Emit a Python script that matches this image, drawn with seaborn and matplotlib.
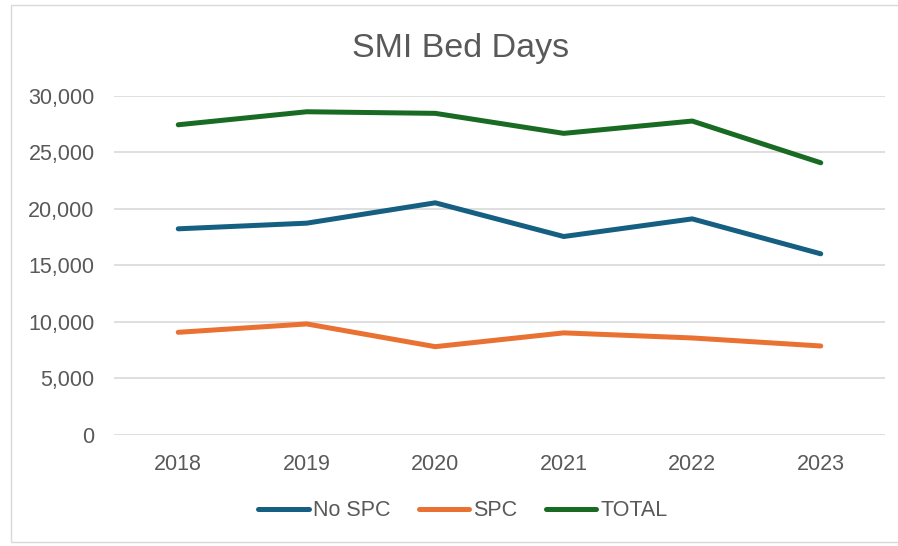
import pandas as pd
import matplotlib
matplotlib.use("Agg")
import matplotlib.pyplot as plt
import matplotlib.ticker as mticker
from matplotlib.patches import Rectangle
import seaborn as sns

# ------------------------------------------------------------
#  data
# ------------------------------------------------------------
years = ["2018", "2019", "2020", "2021", "2022", "2023"]
no_spc = [18230, 18730, 20530, 17550, 19110, 16020]
spc = [9080, 9820, 7810, 9030, 8580, 7870]
total = [27430, 28580, 28440, 26670, 27760, 24070]

SERIES = ["No SPC", "SPC", "TOTAL"]
COLORS = {"No SPC": "#156082", "SPC": "#E97132", "TOTAL": "#196B24"}
TEXT = "#595959"
GRID = "#D9D9D9"

df = pd.DataFrame({"year": years, "No SPC": no_spc, "SPC": spc, "TOTAL": total})
long_df = df.melt(id_vars="year", var_name="series", value_name="bed_days")

sns.set_theme(style="white")
plt.rcParams["font.family"] = ["Liberation Sans", "DejaVu Sans"]

fig = plt.figure(figsize=(8.98, 5.46), dpi=100)
ax = fig.add_axes([114 / 898, 1 - 435 / 546, (885 - 114) / 898, (435 - 95.7) / 546])

sns.lineplot(
    data=long_df, x="year", y="bed_days", hue="series",
    hue_order=SERIES, palette=COLORS, linewidth=3.6,
    sort=False, ax=ax, legend=False,
)
for line in ax.get_lines():
    line.set_solid_capstyle("round")
    line.set_solid_joinstyle("round")

ax.set_xlim(-0.5, len(years) - 0.5)
ax.set_ylim(0, 30000)
ax.yaxis.set_major_locator(mticker.MultipleLocator(5000))
ax.yaxis.set_major_formatter(mticker.StrMethodFormatter("{x:,.0f}"))
ax.grid(axis="y", color=GRID, linewidth=1.2)
ax.set_axisbelow(True)
for s in ax.spines.values():
    s.set_visible(False)
ax.tick_params(axis="both", length=0, labelsize=15.5, labelcolor=TEXT)
ax.tick_params(axis="y", pad=14)
ax.tick_params(axis="x", pad=14)
ax.set_xlabel("")
ax.set_ylabel("")

fig.text(461 / 898, 1 - 57.3 / 546, "SMI Bed Days", ha="center", va="baseline",
         fontsize=24.5, color=TEXT)

handles = [plt.Line2D([], [], color=COLORS[s], linewidth=3.6, solid_capstyle="round")
           for s in SERIES]
leg = fig.legend(
    handles, SERIES, loc="center", bbox_to_anchor=(463 / 898, 1 - 511 / 546),
    ncol=3, frameon=False, fontsize=15.5, handlelength=2.35,
    handletextpad=0.2, columnspacing=1.3, borderaxespad=0,
)
for t in leg.get_texts():
    t.set_color(TEXT)

# chart-area outline
fig.patches.append(Rectangle((11 / 898, 1 - 542 / 546), 1.0, (542 - 5) / 546,
                             transform=fig.transFigure, fill=False,
                             edgecolor=GRID, linewidth=1.0))

fig.savefig("out.png", dpi=100)
